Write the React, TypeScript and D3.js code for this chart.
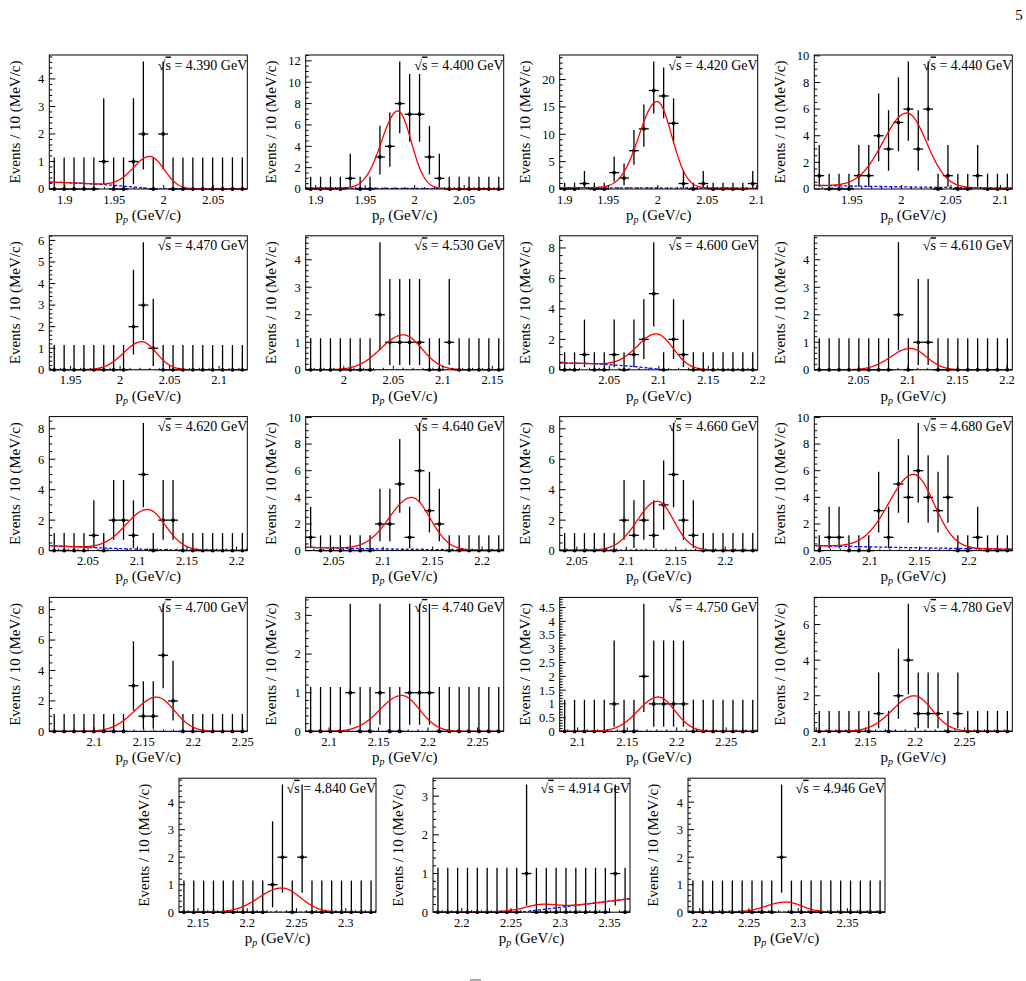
import * as d3 from "d3";

// Centre-of-mass energies (GeV), one panel each
const energies = [
  "4.390", "4.400", "4.420", "4.440",
  "4.470", "4.530", "4.600", "4.610",
  "4.620", "4.640", "4.660", "4.680",
  "4.700", "4.740", "4.750", "4.780",
  "4.840", "4.914", "4.946",
];

// Lower edge of each momentum window (GeV/c); every window is 20 bins of 10 MeV/c
const rangeLo = [
  1.8844, 1.8899, 1.9009, 1.912,
  1.9285, 1.9615, 1.9999, 2.0054,
  2.0109, 2.0218, 2.0327, 2.0437,
  2.0546, 2.0764, 2.0818, 2.0981,
  2.1307, 2.1708, 2.1881,
];

// Event counts per bin
const counts = [
  [0, 0, 0, 0, 0, 1, 0, 0, 1, 2, 0, 2, 0, 0, 0, 0, 0, 0, 0, 0],
  [0, 0, 0, 0, 1, 0, 0, 3, 4, 8, 7, 7, 3, 1, 0, 0, 0, 0, 0, 0],
  [0, 0, 1, 0, 0, 3, 2, 7, 11, 18, 17, 12, 1, 0, 1, 0, 0, 0, 0, 1],
  [1, 0, 0, 0, 1, 1, 4, 3, 5, 6, 3, 6, 0, 1, 0, 0, 1, 0, 0, 0],
  [0, 0, 0, 0, 0, 0, 0, 0, 2, 3, 1, 0, 0, 0, 0, 0, 0, 0, 0, 0],
  [0, 0, 0, 0, 0, 0, 0, 2, 1, 1, 1, 1, 0, 0, 1, 0, 0, 0, 0, 0],
  [0, 0, 1, 0, 0, 1, 0, 1, 2, 5, 0, 2, 1, 0, 0, 0, 0, 0, 0, 0],
  [0, 0, 0, 0, 0, 0, 0, 0, 2, 0, 1, 1, 0, 0, 0, 0, 0, 0, 0, 0],
  [0, 0, 0, 0, 1, 0, 2, 2, 1, 5, 0, 2, 2, 0, 0, 0, 0, 0, 0, 0],
  [1, 0, 0, 0, 0, 0, 0, 2, 2, 5, 1, 6, 3, 2, 0, 0, 0, 0, 0, 0],
  [0, 0, 0, 0, 0, 0, 2, 1, 2, 1, 3, 5, 2, 1, 0, 0, 0, 0, 0, 0],
  [0, 1, 1, 0, 0, 0, 3, 1, 5, 4, 6, 4, 3, 4, 0, 0, 1, 0, 0, 0],
  [0, 0, 0, 0, 0, 0, 0, 0, 3, 1, 1, 5, 2, 0, 0, 0, 0, 0, 0, 0],
  [0, 0, 0, 0, 1, 0, 0, 1, 0, 0, 1, 1, 1, 0, 0, 0, 0, 0, 0, 0],
  [0, 0, 0, 0, 0, 1, 0, 0, 2, 1, 1, 1, 1, 0, 0, 0, 0, 0, 0, 0],
  [0, 0, 0, 0, 0, 0, 1, 0, 2, 4, 1, 1, 1, 0, 1, 0, 0, 0, 0, 0],
  [0, 0, 0, 0, 0, 0, 0, 0, 0, 1, 2, 0, 2, 0, 0, 0, 0, 0, 0, 0],
  [0, 0, 0, 0, 0, 0, 0, 0, 0, 1, 0, 0, 0, 0, 0, 0, 0, 0, 1, 0],
  [0, 0, 0, 0, 0, 0, 0, 0, 0, 2, 0, 0, 0, 0, 0, 0, 0, 0, 0, 0],
];

// Poisson 68% interval bounds for n = 0..20 observed events
const poissonLow = [
  0, 0.173, 0.708, 1.367, 2.086, 2.84, 3.62, 4.419, 5.232, 6.057, 6.891,
  7.734, 8.585, 9.441, 10.3, 11.17, 12.04, 12.92, 13.8, 14.68, 15.57,
];
const poissonHigh = [
  1.148, 3.3, 4.638, 5.918, 7.163, 8.382, 9.584, 10.77, 11.95, 13.11, 14.27,
  15.42, 16.56, 17.7, 18.83, 19.96, 21.08, 22.2, 23.32, 24.44, 25.55,
];

// Major y tick spacing per panel
const yStep = [1, 2, 5, 2, 1, 1, 2, 1, 2, 2, 2, 2, 2, 1, 0.5, 2, 1, 1, 1];

// Labelled x ticks per panel
const xLabels = [
  [1.9, 1.95, 2, 2.05],
  [1.9, 1.95, 2, 2.05],
  [1.9, 1.95, 2, 2.05, 2.1],
  [1.95, 2, 2.05, 2.1],
  [1.95, 2, 2.05, 2.1],
  [2, 2.05, 2.1, 2.15],
  [2.05, 2.1, 2.15, 2.2],
  [2.05, 2.1, 2.15, 2.2],
  [2.05, 2.1, 2.15, 2.2],
  [2.05, 2.1, 2.15, 2.2],
  [2.05, 2.1, 2.15, 2.2],
  [2.05, 2.1, 2.15, 2.2],
  [2.1, 2.15, 2.2, 2.25],
  [2.1, 2.15, 2.2, 2.25],
  [2.1, 2.15, 2.2, 2.25],
  [2.1, 2.15, 2.2, 2.25],
  [2.15, 2.2, 2.25, 2.3],
  [2.2, 2.25, 2.3, 2.35],
  [2.2, 2.25, 2.3, 2.35],
];

// Fitted signal peak: position (GeV/c), width (GeV/c), height (events)
const sigMean = [
  1.9865, 1.983, 1.9992, 2.0056, 2.0218, 2.0601, 2.0985, 2.1024, 2.1103, 2.1289,
  2.1313, 2.1441, 2.163, 2.1734, 2.1814, 2.1991, 2.235, 2.278, 2.2875,
];
const sigWidth = [
  0.0155, 0.015, 0.0165, 0.022, 0.0165, 0.0207, 0.018, 0.018, 0.02, 0.0206,
  0.0185, 0.0228, 0.02, 0.02, 0.0185, 0.02, 0.021, 0.018, 0.018,
];
const sigHeight = [
  1.17, 7.25, 15.8, 5.55, 1.3, 1.27, 2.3, 0.78, 2.62, 3.9,
  3.22, 5.5, 2.25, 0.93, 1.25, 2.0, 0.88, 0.14, 0.37,
];

// Background polynomial, given by its value at the window's low edge, centre and high edge
const bkgLo = [0.25, 0.08, 0.25, 0.27, 0, 0, 0.45, 0, 0.33, 0.25, 0.03, 0.37, 0, 0, 0, 0, 0, -0.28, 0];
const bkgMid = [0.02, 0.05, 0.18, 0.15, 0, 0, 0.04, 0, 0.08, 0.1, 0.02, 0.22, 0, 0, 0, 0, 0, 0.035, 0];
const bkgHi = [-0.5, 0.02, 0.12, 0.05, 0, 0, -1.12, 0, 0.02, 0.03, 0.01, 0.1, 0, 0, 0, 0, 0, 0.35, 0];

const FONT = "'Liberation Serif', 'Times New Roman', serif";
const COL_LEFT = [49.3, 305.7, 559.7, 814.3];
const LAST_ROW_LEFT = [179, 433, 688];
const ROW_TOP = 55;
const ROW_PITCH = 180.8;
const FRAME_W = 198;
const FRAME_H = 134;
const BIN = 0.01;
const WINDOW = 0.2;

function frameFor(k: number) {
  const row = Math.floor(k / 4);
  if (row < 4) {
    return { left: COL_LEFT[k % 4], top: ROW_TOP + ROW_PITCH * row, width: FRAME_W };
  }
  return { left: LAST_ROW_LEFT[k - 16], top: ROW_TOP + ROW_PITCH * 4, width: 197 };
}

const fmt = (v: number) => String(+v.toFixed(2));

function Panel({ k }: { k: number }) {
  const { left, top, width } = frameFor(k);
  const bottom = top + FRAME_H;
  const right = left + width;
  const lo = rangeLo[k];
  const hi = lo + WINDOW;
  const n = counts[k];

  const x = d3.scaleLinear().domain([lo, hi]).range([left, right]);
  const yMax = 1.05 * (d3.max(n, (c) => poissonHigh[c]) as number);
  const y = d3.scaleLinear().domain([0, yMax]).range([bottom, top]);

  // background: quadratic through the three anchor values, floored at zero
  const bkg = (v: number) => {
    const t = (v - lo) / WINDOW;
    const b =
      bkgLo[k] * (2 * t - 1) * (t - 1) +
      bkgMid[k] * 4 * t * (1 - t) +
      bkgHi[k] * t * (2 * t - 1);
    return Math.max(0, b);
  };
  // signal: slightly asymmetric gaussian (longer low-momentum tail)
  const sig = (v: number) => {
    const s = v < sigMean[k] ? sigWidth[k] * 1.1 : sigWidth[k] * 0.9;
    const z = (v - sigMean[k]) / s;
    return sigHeight[k] * Math.exp(-0.5 * z * z);
  };

  const grid = d3.range(0, 401).map((i) => lo + (WINDOW * i) / 400);
  const totalPath = d3
    .line<number>()
    .x((v) => x(v))
    .y((v) => y(bkg(v) + sig(v)))(grid);
  const bkgPath = d3
    .line<number>()
    .x((v) => x(v))
    .y((v) => y(bkg(v)))(grid);

  // y ticks
  const step = yStep[k];
  const majors = d3.range(0, yMax + 1e-9, step);
  const sub = step === 2 ? 4 : 5;
  const minors = d3.range(0, yMax + 1e-9, step / sub).filter(
    (v) => Math.abs(v / step - Math.round(v / step)) > 1e-6,
  );

  // x ticks
  const xMinor = d3
    .range(Math.ceil(lo / BIN - 1e-6), Math.floor(hi / BIN + 1e-6) + 1)
    .map((i) => i * BIN)
    .filter((v) => Math.abs(v / 0.05 - Math.round(v / 0.05)) > 1e-6);
  const xMajor = d3
    .range(Math.ceil(lo / 0.05 - 1e-6), Math.floor(hi / 0.05 + 1e-6) + 1)
    .map((i) => i * 0.05);

  const bins = n.map((c, i) => ({ c, xc: lo + BIN * (i + 0.5) }));
  const clipId = `clip-${k}`;

  return (
    <g>
      <defs>
        <clipPath id={clipId}>
          <rect x={left} y={top} width={width} height={FRAME_H} />
        </clipPath>
      </defs>

      <text
        x={right}
        y={top + 14.5}
        textAnchor="end"
        fontFamily={FONT}
        fontSize={14}
        fill="#000"
      >
        √<tspan style={{ textDecoration: "overline" }}>s</tspan> = {energies[k]} GeV
      </text>

      {/* data: poisson error bars and markers */}
      <g stroke="#000" strokeWidth={1.3}>
        {bins.map((b, i) => (
          <g key={i}>
            <line
              x1={x(b.xc)}
              x2={x(b.xc)}
              y1={y(poissonLow[b.c])}
              y2={y(poissonHigh[b.c])}
            />
            <line
              x1={x(b.xc - BIN / 2)}
              x2={x(b.xc + BIN / 2)}
              y1={y(b.c)}
              y2={y(b.c)}
            />
          </g>
        ))}
      </g>
      <g fill="#000">
        {bins.map((b, i) => (
          <circle key={i} cx={x(b.xc)} cy={y(b.c)} r={1.9} />
        ))}
      </g>

      <g clipPath={`url(#${clipId})`} fill="none">
        <path d={bkgPath ?? ""} stroke="#0000ff" strokeWidth={1.3} strokeDasharray="3 2" />
        <path d={totalPath ?? ""} stroke="#ff0000" strokeWidth={1.3} />
      </g>

      <rect
        x={left}
        y={top}
        width={width}
        height={FRAME_H}
        fill="none"
        stroke="#000"
        strokeWidth={1}
      />

      {/* y axis */}
      <g stroke="#000" strokeWidth={1}>
        {majors.map((v) => (
          <line key={`M${v}`} x1={left} x2={left + 6} y1={y(v)} y2={y(v)} />
        ))}
        {minors.map((v) => (
          <line key={`m${v}`} x1={left} x2={left + 3} y1={y(v)} y2={y(v)} />
        ))}
      </g>
      <g fontFamily={FONT} fontSize={12.5} fill="#000" textAnchor="end">
        {majors.map((v) => (
          <text key={v} x={left - 5} y={y(v)} dy="0.35em">
            {fmt(v)}
          </text>
        ))}
      </g>

      {/* x axis */}
      <g stroke="#000" strokeWidth={1}>
        {xMajor.map((v) => (
          <line key={`M${v}`} x1={x(v)} x2={x(v)} y1={bottom} y2={bottom - 4} />
        ))}
        {xMinor.map((v) => (
          <line key={`m${v}`} x1={x(v)} x2={x(v)} y1={bottom} y2={bottom - 2} />
        ))}
      </g>
      <g fontFamily={FONT} fontSize={12.5} fill="#000" textAnchor="middle">
        {xLabels[k].map((v) => (
          // labels sitting on the frame corner are nudged clear of the y labels
          <text key={v} x={Math.max(x(v), left + 5)} y={bottom + 14.5}>
            {fmt(v)}
          </text>
        ))}
      </g>

      <text
        x={(left + right) / 2}
        y={bottom + 30.7}
        textAnchor="middle"
        fontFamily={FONT}
        fontSize={15}
        fill="#000"
      >
        p
        <tspan fontSize={10} fontStyle="italic" dy={3}>
          p
        </tspan>
        <tspan dy={-3}> (GeV/c)</tspan>
      </text>
      <text
        transform={`translate(${left - 35},${top + FRAME_H / 2}) rotate(-90)`}
        textAnchor="middle"
        dy="0.35em"
        fontFamily={FONT}
        fontSize={15}
        fill="#000"
      >
        Events / 10 (MeV/c)
      </text>
    </g>
  );
}

export default function App() {
  return (
    <svg
      width={1026}
      height={981}
      viewBox="0 0 1026 981"
      style={{ position: "absolute", left: 0, top: 0, background: "#fff" }}
    >
      <rect width={1026} height={981} fill="#fff" />
      <text x={1019} y={20} textAnchor="middle" fontFamily={FONT} fontSize={15}>
        5
      </text>
      {energies.map((_, k) => (
        <Panel key={k} k={k} />
      ))}
      <line x1={470} x2={481} y1={980} y2={980} stroke="#555" strokeWidth={1} />
    </svg>
  );
}
